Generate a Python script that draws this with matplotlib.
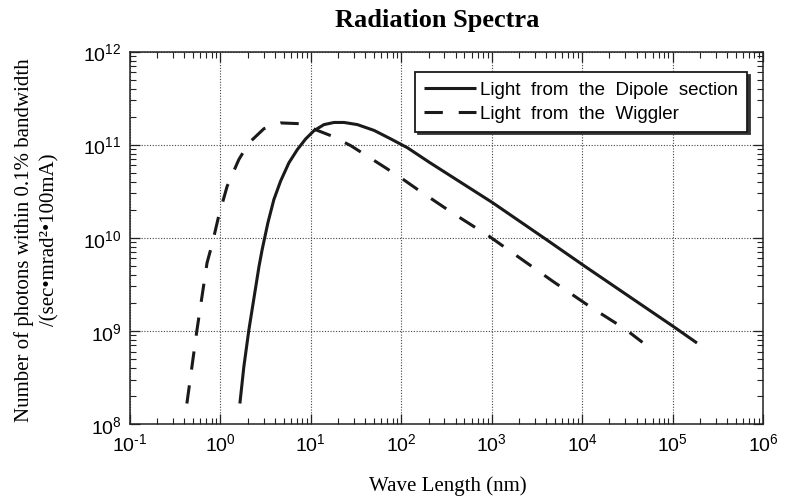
import numpy as np
import matplotlib
matplotlib.use('Agg')
import matplotlib.pyplot as plt

# values (wavelength in nm, photons)
dipole_wl = [1.641, 1.816, 2.065, 2.673, 2.897, 3.350, 3.899, 4.624, 5.715, 7.079,
             8.750, 10.81, 13.96, 18.03, 23.28, 32.73, 50.12, 76.74, 117.5, 204.2,
             1016, 3981, 10666, 102600, 186200]
dipole_ph = [1.66e8, 4.13e8, 1.03e9, 4.95e9, 7.50e9, 1.45e10, 2.57e10, 4.05e10,
             6.37e10, 8.83e10, 1.15e11, 1.41e11, 1.64e11, 1.73e11, 1.73e11, 1.64e11,
             1.42e11, 1.15e11, 9.23e10, 6.46e10, 2.39e10, 9.62e9, 4.95e9, 1.11e9, 7.41e8]

wiggler_wl = [0.4256, 0.5508, 0.7112, 0.8091, 0.9572, 1.186, 1.596, 2.061, 3.020,
              4.624, 7.379, 10.81, 17.30, 27.61, 42.27, 64.57, 99.08, 151.4, 363.9,
              933.3, 4732, 12106, 29717, 46452]
wiggler_ph = [1.66e8, 1.03e9, 5.38e9, 8.51e9, 1.71e10, 3.57e10, 6.90e10, 1.04e11,
              1.48e11, 1.71e11, 1.68e11, 1.47e11, 1.23e11, 9.75e10, 7.50e10, 5.77e10,
              4.40e10, 3.30e10, 1.86e10, 1.04e10, 3.41e9, 1.83e9, 1.05e9, 7.53e8]

xdecades = [-1, 0, 1, 2, 3, 4, 5, 6]
ydecades = [8, 9, 10, 11, 12]

plt.rcParams['font.family'] = 'Liberation Sans'
plt.rcParams['mathtext.fontset'] = 'custom'
plt.rcParams['mathtext.rm'] = 'Liberation Sans'
plt.rcParams['mathtext.default'] = 'regular'


def dec_label(d):
    if d < 0:
        return r'10$^{\text{-}%d}$' % (-d)
    return '10$^{%d}$' % d


fig = plt.figure(figsize=(7.88, 5.02), dpi=100)
ax = fig.add_axes([130/788, 1-425/502, 633/788, 372.5/502])

ax.plot(dipole_wl, dipole_ph, color='#1a1a1a', lw=2.2, solid_capstyle='butt',
        label='Light  from  the  Dipole  section')
ax.plot(wiggler_wl, wiggler_ph, color='#1a1a1a', lw=2.2, linestyle=(0, (6, 5.2)),
        label='Light  from  the  Wiggler')

ax.set_xscale('log')
ax.set_yscale('log')
ax.set_xlim(10.0**xdecades[0], 10.0**xdecades[-1])
ax.set_ylim(10.0**ydecades[0], 10.0**ydecades[-1])

ax.set_xticks([10.0**d for d in xdecades])
ax.set_xticklabels([dec_label(d) for d in xdecades])
ax.set_yticks([10.0**d for d in ydecades])
ax.set_yticklabels([dec_label(d) for d in ydecades])

ax.tick_params(which='both', direction='in', top=True, right=True, color='#222222')
ax.tick_params(which='major', length=7, width=0.9, labelsize=14, pad=6)
ax.tick_params(which='minor', length=4.5, width=0.8)
for s in ax.spines.values():
    s.set_linewidth(1.1)
    s.set_color('#222222')

ax.grid(True, which='major', color='#444444', linestyle=(0, (1, 1.5)), lw=0.8)

leg = ax.legend(loc='upper right', bbox_to_anchor=(0.975, 0.945), borderaxespad=0,
                fontsize=13.5, handlelength=2.75, handletextpad=0.2, borderpad=0.5,
                labelspacing=0.35, fancybox=False, framealpha=1,
                shadow={'color': '#333333', 'alpha': 1})
leg.get_frame().set_edgecolor('#1a1a1a')
leg.get_frame().set_linewidth(1.3)

fig.text(437/788, 1-20/502, 'Radiation Spectra', family='Liberation Serif',
         weight='bold', fontsize=19, ha='center', va='center')
fig.text(448/788, 1-486/502, 'Wave Length (nm)', family='Liberation Serif',
         fontsize=15, ha='center', va='center')
fig.text(37/788, 1-240/502,
         'Number of photons within 0.1% bandwidth\n/(sec\u2022mrad\u00b2\u2022100mA)',
         family='Liberation Serif', fontsize=15, rotation=90, ha='center',
         va='center', multialignment='center', linespacing=1.45)

fig.savefig('out.png', dpi=100)
